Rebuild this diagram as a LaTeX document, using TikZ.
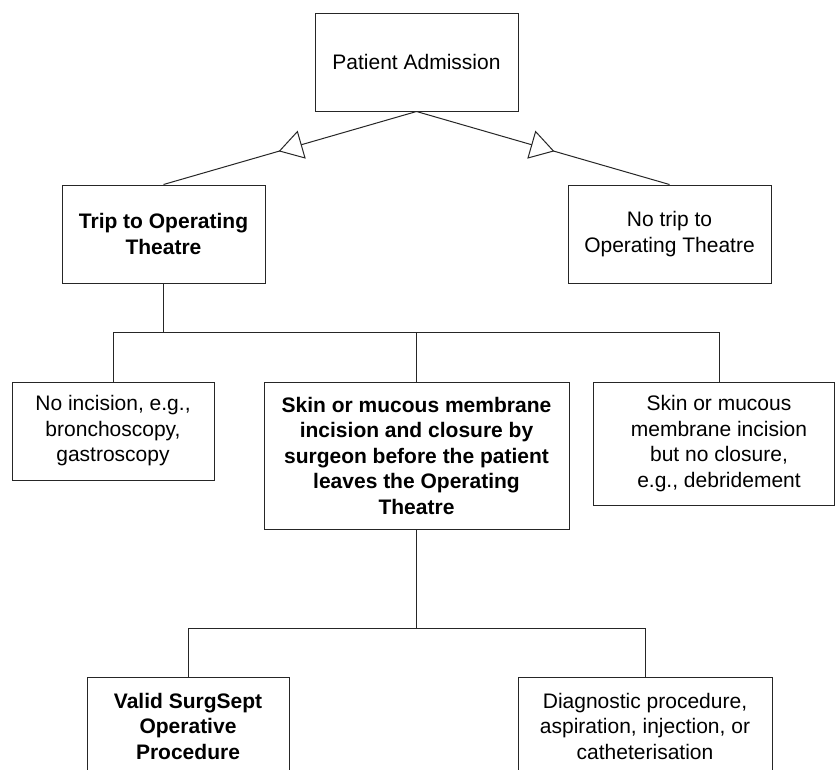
\documentclass[tikz,border=0pt]{standalone}
\usepackage{fontspec}
\setmainfont{Liberation Sans}
\usetikzlibrary{arrows.meta,decorations.markings}
\tikzset{
  box/.style={draw=black!85, line width=1pt, rectangle, align=center, inner sep=0pt, font=\fontsize{21}{25.5}\selectfont},
  boldbox/.style={box, font=\fontsize{21}{25.5}\selectfont\bfseries},
  txt/.style={align=center, inner sep=0pt, font=\fontsize{21}{25.5}\selectfont},
  conn/.style={draw=black!85, line width=1pt},
  genconn/.style={conn, postaction={decorate}, decoration={markings,
     mark=at position 0.545 with {\arrow{Triangle[fill=white, length=24pt, width=29pt, line width=1pt]}}}}
}
\begin{document}
\begin{tikzpicture}[x=1pt, y=-1pt]
\clip (0,0) rectangle (835,769);
\fill[white] (0,0) rectangle (835,769);
% nodes
\node[box, minimum width=203, minimum height=98] (pa) at (416.5,62) {Patient Admission};
\node[boldbox, minimum width=203, minimum height=98] (trip) at (163.5,234) {Trip to Operating\\Theatre};
\node[box, minimum width=203, minimum height=98] (notrip) at (669.5,234) {No trip to\\Operating Theatre};
\node[box, minimum width=202, minimum height=98] (noinc) at (113,431) {No incision, e.g.,\\bronchoscopy,\\gastroscopy};
\node[boldbox, minimum width=305, minimum height=147] (skin) at (416.5,455.5) {Skin or mucous membrane\\incision and closure by\\surgeon before the patient\\leaves the Operating\\Theatre};
\node[box, minimum width=241, minimum height=123] (skinno) at (713.5,443.5) {};
\node[txt] (skinnot) at (719,443.5) {Skin or mucous\\membrane incision\\but no closure,\\e.g., debridement};
\node[boldbox, minimum width=202, minimum height=98] (valid) at (188,726) {Valid SurgSept\\Operative\\Procedure};
\node[box, minimum width=254, minimum height=98] (diag) at (645,726) {Diagnostic procedure,\\aspiration, injection, or\\catheterisation};
% connectors
\path[genconn] (pa.south) -- (trip.north);
\path[genconn] (pa.south) -- (notrip.north);
\coordinate (busL) at (113,332);
\coordinate (bbL) at (188,628);
\draw[conn] (noinc.north) -- (busL) -- (skinnot.north |- busL) -- (skinnot.north |- skinno.north);
\draw[conn] (trip.south) -- (trip.south |- busL);
\draw[conn] (skin.north) -- (skin.north |- busL);
\draw[conn] (valid.north) -- (bbL) -- (diag.north |- bbL) -- (diag.north);
\draw[conn] (skin.south) -- (skin.south |- bbL);
\end{tikzpicture}
\end{document}
